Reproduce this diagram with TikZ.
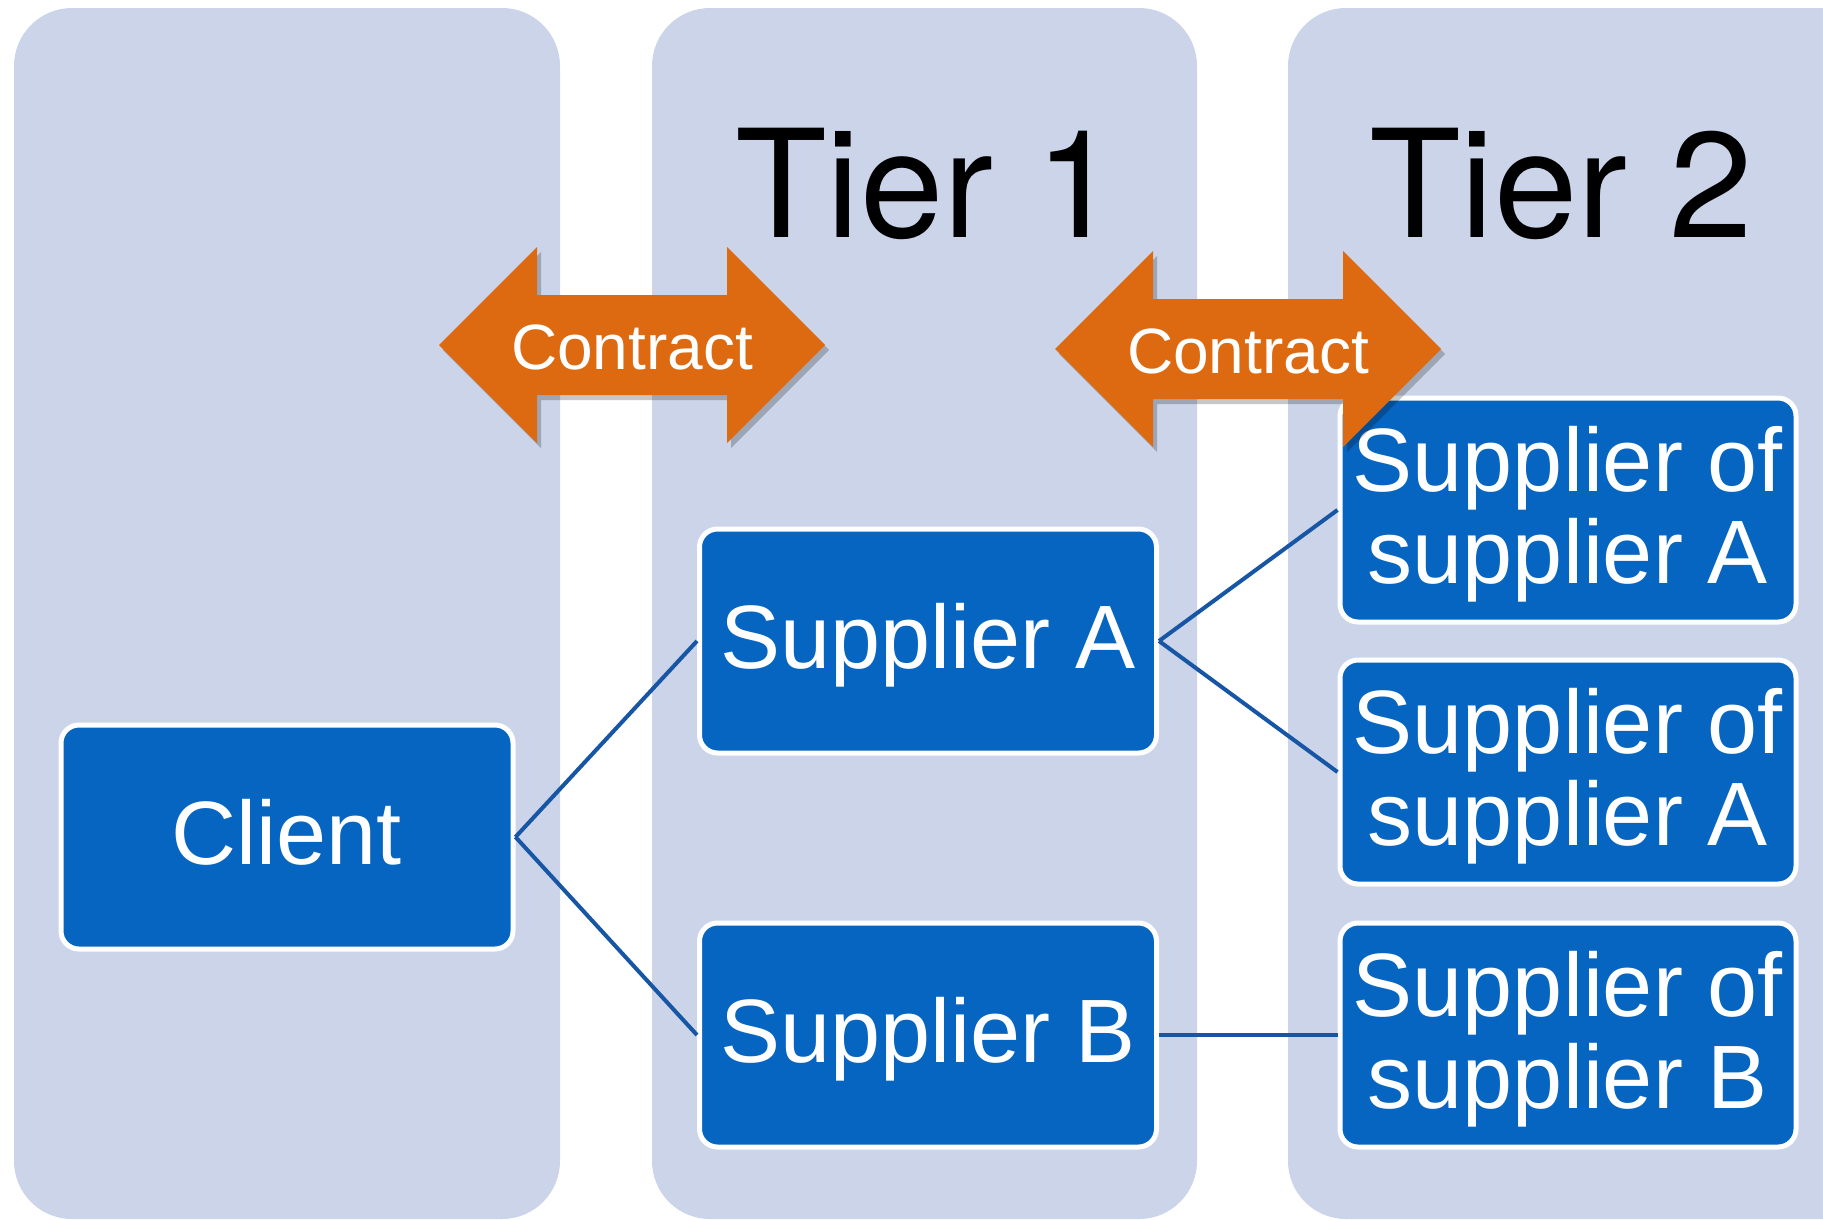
\documentclass[tikz,border=0pt]{standalone}
\usepackage{fontspec}
\setmainfont{Liberation Sans}
\newfontfamily\titlefont{TeX Gyre Heros}
\definecolor{colbg}{RGB}{203,212,232}
\definecolor{boxblue}{RGB}{5,101,192}
\definecolor{linkblue}{RGB}{22,86,164}
\definecolor{contractorange}{RGB}{221,106,17}
\tikzset{
  column/.style={fill=colbg, rounded corners=58pt},
  bluebox/.style={draw=white, line width=5pt, fill=boxblue, rounded corners=18pt,
    text=white, inner sep=0pt, align=center, minimum width=456pt, minimum height=224pt,
    text depth=10pt, font=\fontsize{90}{92}\selectfont},
  link/.style={draw=linkblue, line width=4pt},
  tiertext/.style={anchor=base, inner sep=0pt, font=\titlefont\fontsize{150}{150}\selectfont, text=black},
  contracttext/.style={anchor=base, inner sep=0pt, font=\fontsize{64}{64}\selectfont, text=white},
  arrowshape/.style={fill=contractorange},
  arrowshadow/.style={fill=black, opacity=0.22}
}
\newcommand{\dblarrowpath}{(-193,0) -- (-95,-98) -- (-95,-50) -- (95,-50) -- (95,-98) -- (193,0) -- (95,98) -- (95,50) -- (-95,50) -- (-95,98) -- cycle}
\begin{document}
\begin{tikzpicture}[x=1pt,y=-1pt]
\useasboundingbox (0,0) rectangle (1823,1219);
% columns
\fill[column] (14,8) rectangle (560,1219);
\fill[column] (652,8) rectangle (1197,1219);
\fill[column] (1288,8) rectangle (1890,1219);
% boxes
\node[bluebox, minimum width=452pt] (client) at (287,837) {Client};
\node[bluebox, minimum width=457pt] (supA) at (928,641) {Supplier A};
\node[bluebox, minimum width=457pt] (supB) at (928,1035) {Supplier B};
\node[bluebox] (sosA1) at (1568,510) {Supplier of\\supplier A};
\node[bluebox] (sosA2) at (1568,772) {Supplier of\\supplier A};
\node[bluebox] (sosB) at (1568,1035) {Supplier of\\supplier B};
% connectors
\draw[link] (client.east) -- (supA.west);
\draw[link] (client.east) -- (supB.west);
\draw[link] (supA.east) -- (sosA1.west);
\draw[link] (supA.east) -- (sosA2.west);
\draw[link] (supB.east) -- (sosB.west);
% contract arrows
\begin{scope}[shift={(636,350)}]
  \fill[arrowshadow] \dblarrowpath;
\end{scope}
\begin{scope}[shift={(632,345)}]
  \fill[arrowshape] \dblarrowpath;
\end{scope}
\begin{scope}[shift={(1252,354)}]
  \fill[arrowshadow] \dblarrowpath;
\end{scope}
\begin{scope}[shift={(1248,349)}]
  \fill[arrowshape] \dblarrowpath;
\end{scope}
\node[contracttext] (c1) at (632,369) {Contract};
\node[contracttext] (c2) at (1248,373) {Contract};
% tier titles
\node[tiertext] (t1) at (927,237) {Tier 1};
\node[tiertext] (t2) at (1561,237) {Tier 2};
\end{tikzpicture}
\end{document}
